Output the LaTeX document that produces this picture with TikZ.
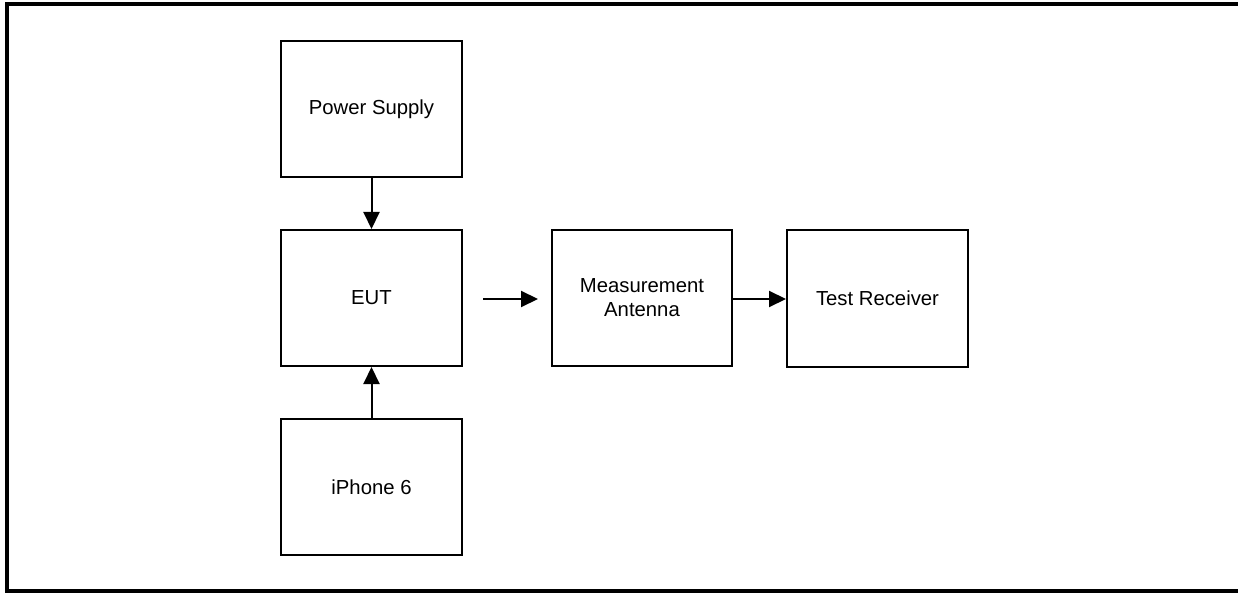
\documentclass[tikz,border=0pt]{standalone}
\usepackage{fontspec}
\setmainfont{Liberation Sans}
\usetikzlibrary{arrows.meta}
\begin{document}
\begin{tikzpicture}[x=1pt,y=-1pt,
  blk/.style={draw,line width=2pt,minimum width=181pt,minimum height=136pt,inner sep=0pt,align=center,font=\fontsize{20.3}{24}\selectfont},
  conn/.style={line width=2pt,-{Triangle[length=17pt,width=16pt]}},
  frame/.style={line width=4pt}]
\useasboundingbox (0,0) rectangle (1238,593);
\draw[frame] (1240,4) -- (7,4) -- (7,591) -- (1240,591);
\node[blk] (ps) at (371.5,109) {Power Supply};
\node[blk] (eut) at (371.5,298) {EUT};
\node[blk] (iph) at (371.5,487) {iPhone 6};
\node[blk,minimum width=180pt] (ma) at (642,298) {Measurement\\Antenna};
\node[blk] (tr) at (877.5,298.5) {Test Receiver};
\coordinate (s) at (483,299);
\coordinate (e) at (538,299);
\draw[conn] (ps) -- (eut);
\draw[conn] (iph) -- (eut);
\draw[conn] (s) -- (e);
\draw[conn] (ma.east |- 0,299) -- (tr.west |- 0,299);
\end{tikzpicture}
\end{document}
